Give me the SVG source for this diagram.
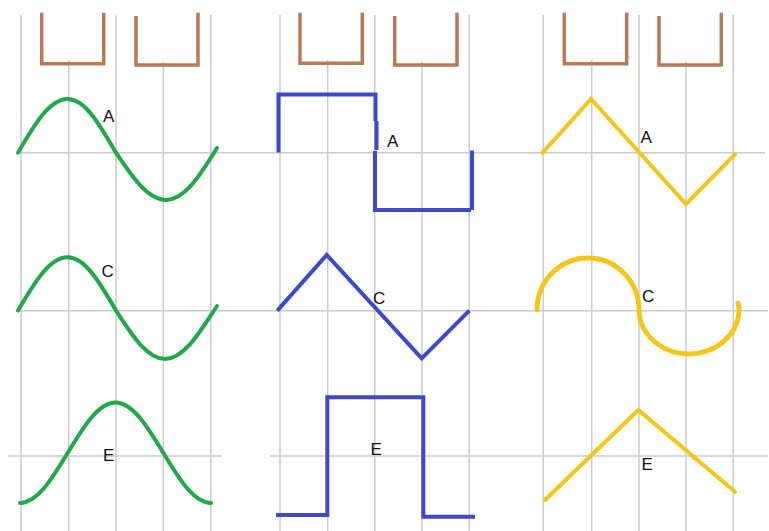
<svg xmlns="http://www.w3.org/2000/svg" width="769" height="531" viewBox="0 0 769 531">
<style>
.grid{stroke:#cbcbcb;stroke-width:1.5;fill:none}
.bucket{stroke:#b97a57;stroke-width:3.5;fill:none;stroke-linejoin:miter}
.green{stroke:#22a84a;stroke-width:4;fill:none;stroke-linecap:round;stroke-linejoin:round}
.blue{stroke:#3f48cc;stroke-width:4;fill:none;stroke-linejoin:miter}
.yellow{stroke:#f5c518;stroke-width:4;fill:none;stroke-linecap:round;stroke-linejoin:miter}
.yellow2{stroke:#f5c518;stroke-width:4.8;fill:none;stroke-linecap:round}
.lbl{font-family:"Liberation Sans",Arial,sans-serif;font-size:17px;fill:#111}
</style>
<rect width="769" height="531" fill="#ffffff"/>
<g id="grid">
  <path class="grid" d="M21,15V531 M68.7,60V531 M116,15V531 M163.3,62V531 M210.7,15V531"/>
  <path class="grid" d="M280,15V531 M327.7,60V531 M374.7,15V531 M422,62V531 M469.3,15V531"/>
  <path class="grid" d="M543.3,15V531 M591.7,60V531 M639,15V531 M686,62V531 M733.3,15V531"/>
  <path class="grid" d="M18,152.7H765 M18,310.7H768 M8,456H222 M270,456H768"/>
</g>
<g id="buckets">
  <path class="bucket" d="M41.7,12.7V63.7H103.7V12.7"/>
  <path class="bucket" d="M136,16V65H198V12.7"/>
  <path class="bucket" d="M300,12.7V63.3H362.3V12.7"/>
  <path class="bucket" d="M394.7,16V65H457V12.7"/>
  <path class="bucket" d="M564.3,12.7V63.7H626.7V12.7"/>
  <path class="bucket" d="M659,16V65H721.3V12.7"/>
</g>
<g id="wave-green-A">
  <path class="green" d="M18,152.7 C34,125.4 49.3,99 67.5,99 C85.5,99 100,125.4 116,152.7 C132,176.8 148,200 166,200 C184,200 199,176.8 214,152.7 L217,148"/>
  <text class="lbl" x="103" y="122">A</text>
</g>
<g id="wave-green-C">
  <path class="green" d="M18,310.5 C34,283.2 49.3,257.3 67.5,257.3 C85.5,257.3 100,283.2 116,310.5 C132,335 147,359 165,359 C183,359 198,335 214,310.5 L217,306"/>
  <text class="lbl" x="101.5" y="277">C</text>
</g>
<g id="wave-green-E">
  <path class="green" d="M20,503 C37.3,503 52.2,478.6 67.8,452.8 C83.3,427 98.2,402.5 115.5,402.5 C132.8,402.5 147.7,427 163.3,452.8 C178.8,478.6 193.7,503 211,503"/>
  <text class="lbl" x="103" y="460.7">E</text>
</g>
<g id="wave-blue-A">
  <path class="blue" d="M278.5,152.5V94.5H375.5V121 M376.5,121V150 M375,151V210H471 M472,150.5V210"/>
  <text class="lbl" x="387" y="146.7">A</text>
</g>
<g id="wave-blue-C">
  <path class="blue" d="M277.3,310.7L326.7,255L421.7,358.3L469.3,310.7" stroke-linejoin="round"/>
  <text class="lbl" x="373" y="304">C</text>
</g>
<g id="wave-blue-E">
  <path class="blue" d="M276,515H327.3V397.3H423.3V516.7H475"/>
  <text class="lbl" x="370.5" y="455">E</text>
</g>
<g id="wave-yellow-A">
  <path class="yellow" d="M542.7,152.7L591,99L686,204L735,154.3"/>
  <text class="lbl" x="640.5" y="143.3">A</text>
</g>
<g id="wave-yellow-C">
  <path class="yellow2" d="M537,310 A51,52 0 0 1 639,310 A50,45 0 0 0 739,308 L738,303"/>
  <text class="lbl" x="642" y="301.7">C</text>
</g>
<g id="wave-yellow-E">
  <path class="yellow" d="M545,500L638.3,410L735,491.7"/>
  <text class="lbl" x="641.5" y="470">E</text>
</g>
</svg>
